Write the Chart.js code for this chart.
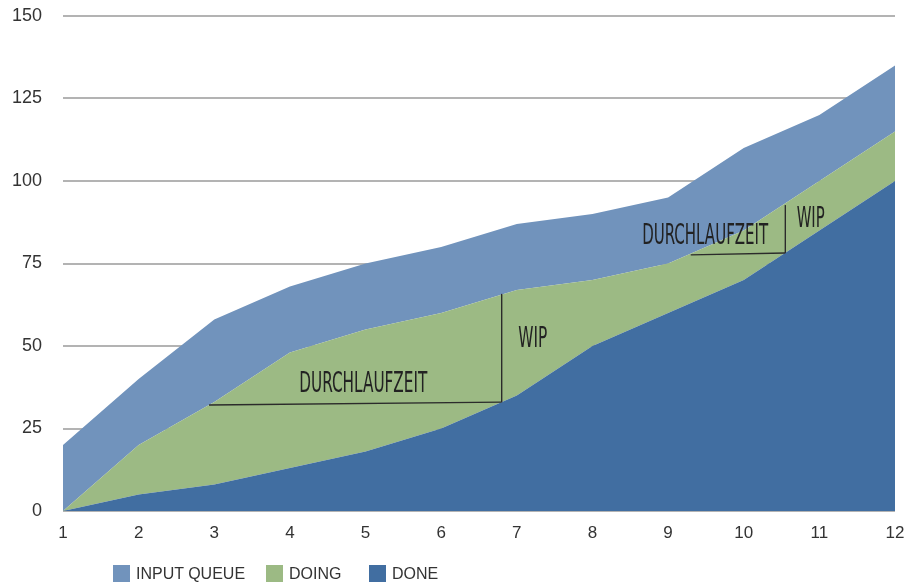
<!DOCTYPE html>
<html>
<head>
<meta charset="utf-8">
<script src="https://cdn.jsdelivr.net/npm/chart.js@4/dist/chart.umd.min.js"></script>
<style>
  html, body { margin: 0; padding: 0; background: #fff; }
  #wrap { position: relative; width: 907px; height: 582px; }
  #legend { position: absolute; left: 0; top: 565px; height: 17px; font: 16px "Liberation Sans", Arial, sans-serif; color: #333; }
  .item { position: absolute; top: 0; white-space: nowrap; line-height: 17px; }
  .box { display: inline-block; width: 17px; height: 17px; vertical-align: top; margin-right: 6px; }
</style>
</head>
<body>
<div id="wrap">
  <canvas id="cfd" width="907" height="582"></canvas>
  <div id="legend"></div>
</div>
<script>
// weeks on the x axis
const weeks = ['1', '2', '3', '4', '5', '6', '7', '8', '9', '10', '11', '12'];

// stacked layers, bottom to top
const done       = [0, 5, 8, 13, 18, 25, 35, 50, 60, 70, 85, 100];
const doing      = [0, 15, 25, 35, 37, 35, 32, 20, 15, 15, 15, 15];
const inputQueue = [20, 20, 25, 20, 20, 20, 20, 20, 20, 25, 20, 20];

const yTicks = [0, 25, 50, 75, 100, 125, 150];

const colQueue = '#7193bc';
const colDoing = '#9cba84';
const colDone  = '#416ea1';

// hand drawn notes, placed in data units
const notes = {
  lines: [
    [[2.93, 32.1], [6.80, 33.0]],
    [[6.80, 33.0], [6.80, 65.8]],
    [[9.30, 77.6], [10.55, 78.2]],
    [[10.55, 78.2], [10.55, 92.7]]
  ],
  texts: [
    { t: 'DURCHLAUFZEIT', x: 4.97, y: 36.1, w: 128, align: 'center' },
    { t: 'WIP', x: 7.02, y: 49.7, w: 29, align: 'left' },
    { t: 'DURCHLAUFZEIT', x: 9.49, y: 80.9, w: 126, align: 'center' },
    { t: 'WIP', x: 10.70, y: 86.1, w: 28, align: 'left' }
  ]
};

const sketchPlugin = {
  id: 'sketch',
  afterDatasetsDraw(chart) {
    const ctx = chart.ctx;
    const xs = chart.scales.x, ys = chart.scales.y;
    const px = v => xs.getPixelForValue(v - 1);
    ctx.save();
    ctx.strokeStyle = '#2b2b2b';
    ctx.lineWidth = 1.4;
    notes.lines.forEach(l => {
      ctx.beginPath();
      ctx.moveTo(px(l[0][0]), ys.getPixelForValue(l[0][1]));
      ctx.lineTo(px(l[1][0]), ys.getPixelForValue(l[1][1]));
      ctx.stroke();
    });
    ctx.fillStyle = '#222';
    ctx.font = '29px "DejaVu Sans Condensed", "Liberation Sans Narrow", sans-serif';
    ctx.textBaseline = 'alphabetic';
    notes.texts.forEach(n => {
      const m = ctx.measureText(n.t).width;
      const sx = n.w / m;
      let x = px(n.x);
      if (n.align === 'center') x -= n.w / 2;
      ctx.save();
      ctx.translate(x, ys.getPixelForValue(n.y));
      ctx.scale(sx, 1);
      ctx.textAlign = 'left';
      ctx.fillText(n.t, 0, 0);
      ctx.restore();
    });
    ctx.restore();
  }
};

new Chart(document.getElementById('cfd'), {
  type: 'line',
  data: {
    labels: weeks,
    datasets: [
      { label: 'DONE', data: done, backgroundColor: colDone, fill: 'origin' },
      { label: 'DOING', data: doing, backgroundColor: colDoing, fill: '-1' },
      { label: 'INPUT QUEUE', data: inputQueue, backgroundColor: colQueue, fill: '-1' }
    ]
  },
  options: {
    responsive: false,
    animation: false,
    layout: { padding: { top: 16, right: 12, left: 0, bottom: 0 } },
    elements: {
      line: { borderWidth: 0, tension: 0 },
      point: { radius: 0, hoverRadius: 0 }
    },
    plugins: { legend: { display: false }, tooltip: { enabled: false } },
    scales: {
      x: {
        offset: false,
        grid: { display: false },
        border: { display: false },
        ticks: { color: '#333', font: { family: '"Liberation Sans", Arial, sans-serif', size: 17 }, padding: 4, maxRotation: 0 },
        afterFit: a => { a.height = 71; a.paddingLeft = 0; a.paddingRight = 0; }
      },
      y: {
        stacked: true,
        min: 0,
        max: 150,
        afterBuildTicks: a => { a.ticks = yTicks.map(v => ({ value: v })); },
        grid: { color: '#b3b3b3', lineWidth: 2, drawTicks: false },
        border: { display: false },
        ticks: { color: '#333', font: { family: '"Liberation Sans", Arial, sans-serif', size: 18 }, padding: 21 },
        afterFit: a => { a.width = 63; a.paddingTop = 0; a.paddingBottom = 0; }
      }
    }
  },
  plugins: [sketchPlugin]
});

// legend below the plot
const legendItems = [
  { label: 'INPUT QUEUE', color: colQueue, left: 113 },
  { label: 'DOING', color: colDoing, left: 266 },
  { label: 'DONE', color: colDone, left: 369 }
];
const lg = document.getElementById('legend');
legendItems.forEach(it => {
  const d = document.createElement('div');
  d.className = 'item';
  d.style.left = it.left + 'px';
  d.innerHTML = '<span class="box" style="background:' + it.color + '"></span>' + it.label;
  lg.appendChild(d);
});
</script>
</body>
</html>
